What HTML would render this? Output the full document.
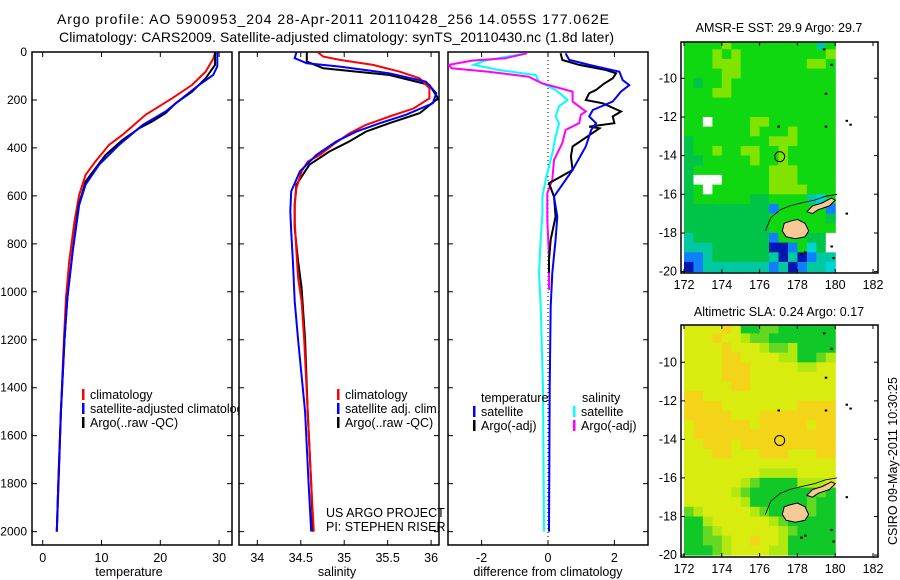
<!DOCTYPE html>
<html><head><meta charset="utf-8"><style>
html,body{margin:0;padding:0;background:#fff;}
svg{display:block;font-family:"Liberation Sans",sans-serif;}
</style></head><body>
<svg id="fig" width="900" height="580" viewBox="0 0 900 580" xmlns="http://www.w3.org/2000/svg">
<defs>
<clipPath id="c1"><rect x="32" y="52" width="200" height="493"/></clipPath>
<clipPath id="c1leg"><rect x="32" y="52" width="207" height="493"/></clipPath>
<clipPath id="c2"><rect x="239" y="52" width="200" height="493"/></clipPath>
<clipPath id="c3"><rect x="448" y="52" width="200" height="493"/></clipPath>
<clipPath id="cm1"><rect x="681" y="42" width="197" height="231"/></clipPath>
<clipPath id="cm2"><rect x="681" y="325" width="197" height="232"/></clipPath>
</defs>
<text x="57" y="24" font-size="14" textLength="552">Argo profile: AO 5900953_204 28-Apr-2011 20110428_256 14.055S 177.062E</text>
<text x="59" y="42" font-size="14" textLength="555">Climatology: CARS2009. Satellite-adjusted climatology: synTS_20110430.nc (1.8d later)</text>
<g id="g1"></g>
<g id="g2"></g>
<g id="g3"></g>
<g id="m1"></g>
<g id="m2"></g>
<text x="0" y="0" font-size="12.5" transform="translate(897,545) rotate(-90)">CSIRO 09-May-2011 10:30:25</text>
</svg>
<script>
// ---- profile data ----
var tClimDepth = [0,5,28,82,137,193,262,345,387,456,512,595,706,873,1024,1200,1500,1800,2000];
var tClimVal = [29.6,29.3,29.0,27.7,25.4,22.0,17.5,13.6,11.3,9.0,7.3,6.2,5.4,4.5,3.96,3.6,3.1,2.7,2.4];
var tSatDepth = [0,60,96,137,193,248,304,387,470,553,637,831,1024,1200,1500,1800,2000];
var tSatVal = [29.7,29.7,29.0,26.6,23.7,20.9,17.0,13.0,9.6,7.3,6.2,5.1,4.2,3.7,3.1,2.65,2.4];
var tArgoDepth = [0,54,110,165,214,255,290,318,366,429,540,640,830,1024,1200,1500,1800,2000];
var tArgoVal = [29.3,29.3,27.7,25.4,22.6,20.9,18.6,16.4,13.6,10.7,7.3,6.1,5.1,4.2,3.7,3.1,2.65,2.4];

var sClimDepth = [2,19,33,54,82,110,151,193,235,269,304,339,387,429,457,498,568,637,706,831,942,1039,1200,1500,1800,2000];
var sClimVal = [34.70,34.76,34.95,35.33,35.64,35.87,35.98,35.98,35.80,35.52,35.25,35.06,34.87,34.72,34.58,34.51,34.45,34.43,34.43,34.45,34.47,34.51,34.54,34.58,34.62,34.65];
var sSatDepth = [2,26,47,61,89,124,172,214,262,297,332,373,429,498,581,665,748,873,1039,1200,1500,1800,2000];
var sSatVal = [34.45,34.43,34.57,34.95,35.52,35.94,36.06,36.02,35.71,35.41,35.14,34.91,34.68,34.49,34.39,34.38,34.39,34.41,34.43,34.47,34.55,34.59,34.62];
var sArgoDepth = [2,40,68,96,137,193,255,297,332,373,415,470,553,637,734,873,984,1200,1500,1800,2000];
var sArgoVal = [34.57,34.57,34.76,35.52,35.98,36.08,35.87,35.52,35.25,35.06,34.83,34.60,34.45,34.43,34.43,34.47,34.51,34.55,34.58,34.62,34.64];

var dSatSDepth = [5.5,36,54,75,96,124,158,200,227,269,297,353,423,533,603,673,782,921,1060,1400,2000];
var dSatSVal = [-0.68,-1.89,-2.24,-1.48,-0.37,-0.27,0.23,0.59,0.33,0.23,0.33,0.23,0.13,-0.07,-0.17,-0.17,-0.22,-0.27,-0.22,-0.15,-0.12];
var dArgoSDepth = [5.5,26,36,54,68,82,103,131,165,207,248,262,297,325,380,450,533,589,700,853,992];
var dArgoSVal = [-0.63,-1.28,-2.29,-2.99,-2.90,-1.79,-0.58,-0.17,0.74,0.74,1.14,0.99,0.94,0.53,0.43,0.18,0.13,-0.02,-0.02,0.03,0.03];
var dSatTDepth = [5.5,33,54,82,117,138,165,207,242,269,297,325,394,492,603,686,782,921,1060,1400,2000];
var dSatTVal = [0.53,0.64,1.24,2.15,2.25,2.45,2.20,1.95,1.35,1.24,1.45,1.30,1.14,0.74,0.18,0.28,0.23,0.13,0.08,0.05,0.03];
var dArgoTDepth = [5.5,33,54,75,89,110,131,158,172,200,214,248,269,297,311,318,394,436,492,547,603,686,782,866,921];
var dArgoTVal = [0.38,0.43,0.94,1.75,2.05,1.95,1.70,1.45,1.24,1.14,1.65,2.20,1.95,2.00,1.24,1.55,0.74,0.69,0.74,0.03,0.18,0.23,0.08,0.03,0.03];

var depthTicks = [0,200,400,600,800,1000,1200,1400,1600,1800,2000];
var tempTicks = [0,10,20,30];
var salTicks = [34,34.5,35,35.5,36];
var diffTicks = [-2,0,2];

// ---- map data (0.5 deg cells, lon 172..180, lat -8..-20) ----
var sstRows = [
"ggggygggggggggtg","gggygygggggggggy","gggyyygggggggyyg","ggggyygggggggggg",
"gGggyggggggggggg","gggyyggggggggggg","gggggggggggggggg","gggggggggggggggg",
"ggwggggyyggggggg","gggggggygggygggg","Gggggggggyyygggg","Gggyggyyggyggggg",
"GGgggggyggyggggg","Gggggggggyyygggg","Gwwwgggggyyygggg","Ggwggggggyyyyggg",
"GggggggGGggggtcg","GGGGGGGGGbgggggb","GGGGGGGGGggggggG","GGGGGGGGGggggggg",
"tGGGGGGGGbgggGGw","tttGGGGGGddbgcGw","bbtGGGGGGtdtdbtt","dbtttttttbtdbttc"];
var sstColors = {g:"#10d810",y:"#80e400",G:"#00c448",t:"#00c8a0",c:"#00d4d4",b:"#1080ff",d:"#0018b0",w:"#ffffff"};
var slaRows = [
"yyyyoyGGggGGGGGG","yyyoyylggGGGGGGG","yyyyoyyylgglGGGG","yyyyooyyyyllGGgl",
"yyyyoooyyyyyllyy","yyyyoooyyyyyyyyy","yyyyyooyyyyyyyyy","ooyyyyyyyyyyyyyy",
"ooooyyyyyyyyoooo","oooooyyyoooooooo","yooooooyoooooyoo","yooooooooooooooo",
"yyoooyoooooooooo","yyyooyyyoooyyyoo","yyyyyyyyyyyyyyyy","yyyyyyyyllllyyyy",
"yyyyyylgGGGGllly","yyyyylgGGGGGGGgG","yyyyyylGGGGGGgGG","glyyyyylgGGgGgGG",
"GGlyyyyyylgGGGGG","GGglyyyyyylgGGGG","GGgglyyoyylGGGGG","GGGglyyyyllGGGGG"];
var slaColors = {y:"#d8ec10",o:"#f4d418",l:"#b0e810",g:"#64d820",G:"#10c828"};
var argoLon = 177.062, argoLat = -14.055;
var vitiLevu = [[177.3,-17.5],[177.6,-17.4],[178.0,-17.3],[178.4,-17.5],[178.6,-17.9],[178.4,-18.2],[177.9,-18.3],[177.4,-18.2],[177.2,-17.9]];
var vanuaLevu = [[178.5,-16.9],[178.8,-16.6],[179.3,-16.45],[179.8,-16.2],[180.0,-16.3],[179.7,-16.6],[179.1,-16.8],[178.8,-17.0]];
var reefLine = [[176.3,-17.9],[176.6,-17.2],[177.1,-16.8],[177.6,-16.6],[178.2,-16.45],[178.9,-16.3],[179.5,-16.1],[180.1,-16.0]];
var islets = [[177.0,-12.5],[179.5,-12.5],[180.6,-12.2],[180.8,-12.4],[179.4,-8.5],[179.8,-9.3],[179.5,-10.8],[180.6,-17.0],[178.2,-19.1],[178.4,-19.0],[179.8,-18.7],[179.9,-19.3]];

var NS="http://www.w3.org/2000/svg";
function mk(tag,attrs,parent){var e=document.createElementNS(NS,tag);for(var k in attrs)e.setAttribute(k,attrs[k]);parent.appendChild(e);return e;}
function yD(d){return 52+d*0.2398;}

function panel(gid,x0,x1,clip,xf,ticks,fmt,label,labelX,showDepth){
  var g=document.getElementById(gid);
  var fr=mk('rect',{x:x0,y:52,width:x1-x0,height:493,fill:'none',stroke:'#000','stroke-width':1.5},g);
  
  
  depthTicks.forEach(function(d){
    var y=yD(d);
    var t=mk('path',{d:'M'+x0+' '+y+'h5M'+x1+' '+y+'h-5',stroke:'#000','stroke-width':1},g);
    
    
    if(showDepth){
      var l=mk('text',{x:x0-5,y:y+4,'font-size':12,'text-anchor':'end'},g);
      l.textContent=d;
      
      
    }
  });
  ticks.forEach(function(v){
    var x=xf(v);
    var t=mk('path',{d:'M'+x+' 545v-5M'+x+' 52v5',stroke:'#000','stroke-width':1},g);
    
    
    var l=mk('text',{x:x,y:562,'font-size':12.5,'text-anchor':'middle'},g);
    l.textContent=fmt(v);
    
    
  });
  var al=mk('text',{x:labelX,y:576,'font-size':12.5,'text-anchor':'middle'},g);
  al.textContent=label;
  
  
  return g;
}
function line(g,clip,xf,depths,vals,color,name){
  var d='';
  for(var i=0;i<depths.length;i++){d+=(i?'L':'M')+xf(vals[i]).toFixed(1)+' '+yD(depths[i]).toFixed(1);}
  var p=mk('path',{d:d,fill:'none',stroke:color,'stroke-width':2,'clip-path':'url(#'+clip+')'},g);
  
  
}
function legend(g,x,y,color,text,clip,name){
  var b=mk('rect',{x:x,y:y-9,width:2.5,height:11,fill:color},g);
  
  
  var attrs={x:x+8,y:y+1,'font-size':12.5};
  if(clip)attrs['clip-path']='url(#'+clip+')';
  var t=mk('text',attrs,g);
  t.textContent=text;
  
  
}

var xT=function(v){return 42.7+v*5.88;};
var xS=function(v){return 257.3+(v-34)*86.9;};
var xDf=function(v){return 548+v*33.2;};

var g1=panel('g1',32,232,'c1',xT,tempTicks,function(v){return v;},'temperature',129,true);
line(g1,'c1',xT,tClimDepth,tClimVal,'#ff0000','temperature-climatology-line');
line(g1,'c1',xT,tArgoDepth,tArgoVal,'#000000','temperature-argo-line');
line(g1,'c1',xT,tSatDepth,tSatVal,'#0000ff','temperature-satellite-line');
legend(g1,82,398,'#ff0000','climatology','c1leg','legend-climatology');
legend(g1,82,412,'#0000ff','satellite-adjusted climatology','c1leg','legend-satellite-adjusted');
legend(g1,82,426,'#000000','Argo(..raw -QC)','c1leg','legend-argo');

var g2=panel('g2',239,439,'c2',xS,salTicks,function(v){return v;},'salinity',337,false);
line(g2,'c2',xS,sArgoDepth,sArgoVal,'#000000','salinity-argo-line');
line(g2,'c2',xS,sClimDepth,sClimVal,'#ff0000','salinity-climatology-line');
line(g2,'c2',xS,sSatDepth,sSatVal,'#0000ff','salinity-satellite-line');
legend(g2,337,398,'#ff0000','climatology',null,'legend-sal-climatology');
legend(g2,337,412,'#0000ff','satellite adj. clim.',null,'legend-sal-satellite');
legend(g2,337,426,'#000000','Argo(..raw -QC)',null,'legend-sal-argo');
var p1=mk('text',{x:326,y:517,'font-size':12.5},g2);
p1.textContent='US ARGO PROJECT';


var p2=mk('text',{x:326,y:531,'font-size':12.5},g2);
p2.textContent='PI: STEPHEN RISER';



var g3=panel('g3',448,648,'c3',xDf,diffTicks,function(v){return v;},'difference from climatology',548,false);
var zl=mk('path',{d:'M548 52V545',stroke:'#000','stroke-width':1,'stroke-dasharray':'1,3'},g3);


line(g3,'c3',xDf,dSatSDepth,dSatSVal,'#00ffff','salinity-satellite-diff-line');
line(g3,'c3',xDf,dArgoSDepth,dArgoSVal,'#ff00ff','salinity-argo-diff-line');
line(g3,'c3',xDf,dArgoTDepth,dArgoTVal,'#000000','temperature-argo-diff-line');
line(g3,'c3',xDf,dSatTDepth,dSatTVal,'#0000ff','temperature-satellite-diff-line');
var h1=mk('text',{x:481,y:402,'font-size':12.5},g3);
h1.textContent='temperature';


var h2=mk('text',{x:582,y:402,'font-size':12.5},g3);
h2.textContent='salinity';


legend(g3,473,415,'#0000ff','satellite',null,'legend-t-satellite');
legend(g3,473,429,'#000000','Argo(-adj)',null,'legend-t-argo');
legend(g3,573,415,'#00ffff','satellite',null,'legend-s-satellite');
legend(g3,573,429,'#ff00ff','Argo(-adj)',null,'legend-s-argo');

function map(gid,clip,top,bot,lat10y,pxLat,rows,colors,title,titleY){
  var g=document.getElementById(gid);
  var lx=function(lon){return 684+(lon-172)*18.9;};
  var ly=function(lat){return lat10y+(-10-lat)*pxLat;};
  var cg=mk('g',{'clip-path':'url(#'+clip+')'},g);
  for(var r=0;r<rows.length;r++){
    for(var c=0;c<rows[r].length;c++){
      var lon=172+c*0.5, lat=-8-r*0.5;
      var x0=lx(lon), y0=ly(lat);
      var cell=mk('rect',{x:x0.toFixed(1),y:y0.toFixed(1),width:(0.5*18.9+0.6).toFixed(1),height:(0.5*pxLat+0.6).toFixed(1),fill:colors[rows[r][c]]},cg);
      
      
    }
  }
  function poly(pts,fill,name){
    var d=pts.map(function(p,i){return (i?'L':'M')+lx(p[0]).toFixed(1)+' '+ly(p[1]).toFixed(1);}).join('')+'Z';
    var e=mk('path',{d:d,fill:fill,stroke:'#000','stroke-width':1},cg);
    
    
  }
  poly(vitiLevu,'#f8c896','island-viti-levu');
  poly(vanuaLevu,'#f8c896','island-vanua-levu');
  var rd=reefLine.map(function(p,i){return (i?'L':'M')+lx(p[0]).toFixed(1)+' '+ly(p[1]).toFixed(1);}).join('');
  var rf=mk('path',{d:rd,fill:'none',stroke:'#000','stroke-width':0.8},cg);
  
  
  islets.forEach(function(p){
    var s=mk('rect',{x:lx(p[0])-1,y:ly(p[1])-1,width:2.5,height:2,fill:'#000'},g);
    
    
  });
  var ci=mk('circle',{cx:lx(argoLon),cy:ly(argoLat),r:5,fill:'none',stroke:'#000','stroke-width':1},g);
  
  
  var fr=mk('rect',{x:681,y:top,width:197,height:bot-top,fill:'none',stroke:'#000','stroke-width':1.5},g);
  
  
  [172,174,176,178,180,182].forEach(function(lon){
    var x=lx(lon);
    var t=mk('path',{d:'M'+x+' '+bot+'v-4M'+x+' '+top+'v4',stroke:'#000'},g);
    
    
    var l=mk('text',{x:x,y:bot+16,'font-size':12.5,'text-anchor':'middle'},g);
    l.textContent=lon;
    
    
  });
  [-10,-12,-14,-16,-18,-20].forEach(function(lat){
    var y=ly(lat);
    var t=mk('path',{d:'M681 '+y+'h4M878 '+y+'h-4',stroke:'#000'},g);
    
    
    var l=mk('text',{x:677,y:y+4,'font-size':12.5,'text-anchor':'end'},g);
    l.textContent=lat;
    
    
  });
  var tt=mk('text',{x:779,y:titleY,'font-size':12.5,'text-anchor':'middle'},g);
  tt.textContent=title;
  
  
}
map('m1','cm1',42,273,78.3,19.33,sstRows,sstColors,'AMSR-E SST: 29.9 Argo: 29.7',32);
map('m2','cm2',325,557,362.3,19.27,slaRows,slaColors,'Altimetric SLA: 0.24 Argo: 0.17',316);
</script>
</body></html>
